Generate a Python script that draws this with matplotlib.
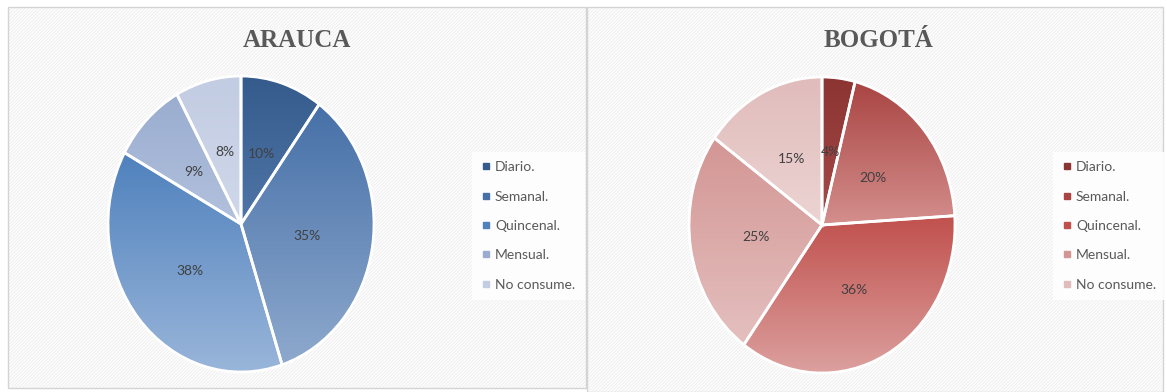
import matplotlib
matplotlib.use("Agg")
import matplotlib.pyplot as plt
import numpy as np
from matplotlib.patches import Rectangle
from matplotlib.lines import Line2D
from matplotlib.colors import LinearSegmentedColormap

# ---- data ----
categories = ["Diario.", "Semanal.", "Quincenal.", "Mensual.", "No consume."]
arauca_values = [10, 35, 38, 9, 8]
bogota_values = [4, 20, 36, 25, 15]
titles = ["ARAUCA", "BOGOTÁ"]

# ---- styles ----
arauca_top = ["#355a8c", "#4670a8", "#4f81bd", "#9aadd0", "#c2cce2"]
arauca_bot = ["#5076a8", "#8ea9cd", "#9ab6da", "#b2c1dd", "#d0d8ea"]
bogota_top = ["#8c3432", "#a94442", "#c0504d", "#d39694", "#e0bcbb"]
bogota_bot = ["#a54b49", "#d48f8d", "#dca19f", "#e4c0bf", "#ecd4d3"]

W, H = 1167, 392
fig = plt.figure(figsize=(W / 100, H / 100), dpi=100)
fig.patch.set_facecolor("white")
plt.rcParams["hatch.linewidth"] = 0.5

bg = fig.add_axes([0, 0, 1, 1])
bg.set_xlim(0, W)
bg.set_ylim(H, 0)
bg.axis("off")

panels = [(8, 7, 578, 381), (587, 7, 576, 385)]
for (x0, y0, w, h) in panels:
    bg.add_patch(Rectangle((x0, y0), w, h, facecolor="#fdfdfd", edgecolor="#ebebeb",
                           hatch="/" * 10, linewidth=0, zorder=0))
    bg.add_patch(Rectangle((x0, y0), w, h, facecolor="none", edgecolor="#d4d4d4",
                           linewidth=1.0, zorder=1))

pie_geom = [(241, 224, 133, 148), (822, 225, 133, 148)]
title_pos = [(297, 40), (879, 40)]
legend_anchor = [(472, 226), (1053, 226)]

datasets = [(arauca_values, arauca_top, arauca_bot), (bogota_values, bogota_top, bogota_bot)]

for i, (vals, tops, bots) in enumerate(datasets):
    cx, cy, rx, ry = pie_geom[i]
    ax = fig.add_axes([(cx - rx) / W, (H - (cy + ry)) / H, 2 * rx / W, 2 * ry / H])
    wedges, texts, autotexts = ax.pie(
        vals, startangle=90, counterclock=False, radius=1,
        autopct="%1.0f%%", pctdistance=0.5,
        wedgeprops=dict(edgecolor="white", linewidth=2),
        textprops=dict(color="#404040", fontsize=10, family="Lato"))
    for w, ct, cb in zip(wedges, tops, bots):
        verts = w.get_patch_transform().transform(w.get_path().vertices)
        xmin, ymin = verts.min(axis=0)
        xmax, ymax = verts.max(axis=0)
        cmap = LinearSegmentedColormap.from_list("g", [cb, ct])
        grad = np.linspace(0, 1, 256).reshape(-1, 1)
        im = ax.imshow(grad, extent=(xmin, xmax, ymin, ymax), origin="lower",
                       cmap=cmap, aspect="auto", zorder=0.5, interpolation="bilinear")
        im.set_clip_path(w)
        w.set_facecolor("none")
        w.set_clip_on(False)
    for t in autotexts:
        t.set_zorder(5)
    ax.set_aspect("auto")
    ax.set_xlim(-1, 1)
    ax.set_ylim(-1, 1)
    ax.axis("off")

    tx, ty = title_pos[i]
    bg.text(tx, ty, titles[i], ha="center", va="center", fontsize=18,
            fontweight="bold", family="Liberation Serif", color="#595959")

    handles = [Line2D([], [], marker="s", linestyle="none", markersize=4.5,
                      color=c) for c in tops]
    lx, ly = legend_anchor[i]
    leg = ax.legend(handles, categories, loc="center left",
                    bbox_to_anchor=(lx / W, 1 - ly / H), bbox_transform=fig.transFigure,
                    frameon=True, fancybox=False, framealpha=0.85, facecolor="white",
                    edgecolor="none", prop=dict(family="Lato", size=10),
                    labelcolor="#595959", handlelength=0.6, handletextpad=0.35,
                    labelspacing=1.25, borderpad=0.7, borderaxespad=0)

fig.savefig("out.png", dpi=100, facecolor="white")
